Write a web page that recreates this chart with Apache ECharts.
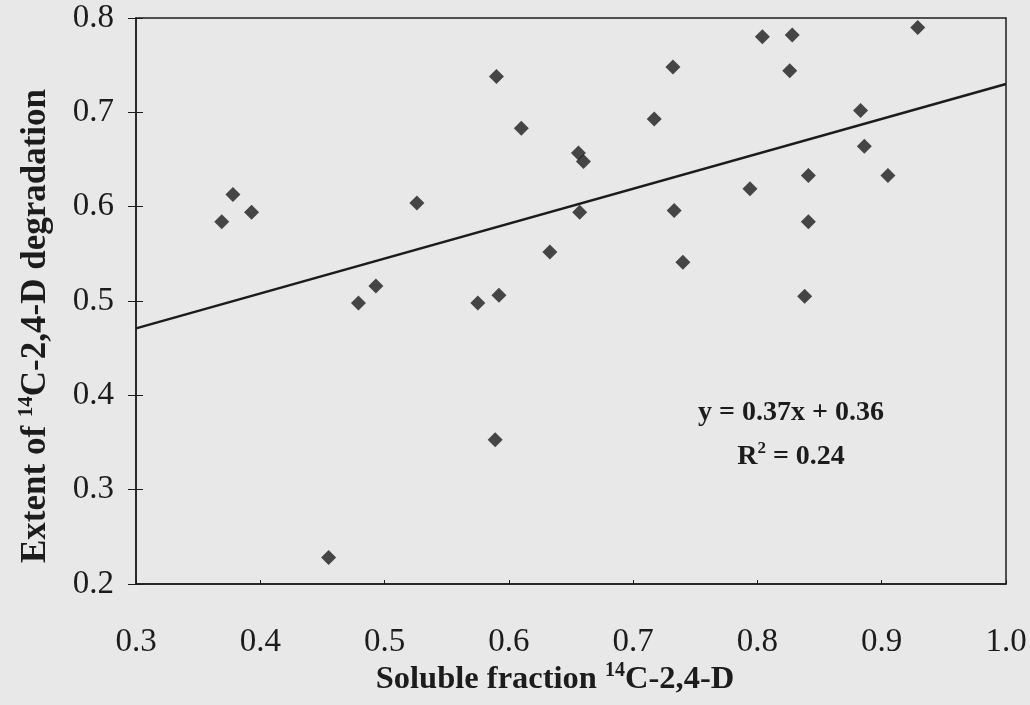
<!DOCTYPE html>
<html>
<head>
<meta charset="utf-8">
<script src="https://cdn.jsdelivr.net/npm/echarts@6/dist/echarts.min.js"></script>
<style>
  html, body { margin: 0; padding: 0; background: #e8e8e8; }
  #chart { width: 1030px; height: 705px; }
</style>
</head>
<body>
<div id="chart"></div>
<script>
// soluble fraction (x) and extent of degradation (y)
const solubleFraction = [
  0.369, 0.378, 0.393, 0.455, 0.479, 0.493, 0.526, 0.575, 0.589, 0.590,
  0.592, 0.610, 0.633, 0.656, 0.660, 0.657, 0.717, 0.732, 0.733, 0.740,
  0.794, 0.804, 0.826, 0.828, 0.838, 0.841, 0.841, 0.883, 0.886, 0.905,
  0.929
];
const degradation = [
  0.584, 0.613, 0.594, 0.228, 0.498, 0.516, 0.604, 0.498, 0.353, 0.738,
  0.506, 0.683, 0.552, 0.657, 0.648, 0.594, 0.693, 0.748, 0.596, 0.541,
  0.619, 0.780, 0.744, 0.782, 0.505, 0.633, 0.584, 0.702, 0.664, 0.633,
  0.790
];
// trend line as printed on the chart
const slope = 0.37;
const intercept = 0.36;
const xRange = [0.3, 1.0];
const yRange = [0.2, 0.8];

const font = '"Liberation Serif", "Times New Roman", serif';
const ink = '#1c1c1c';

const points = solubleFraction.map((x, i) => [x, degradation[i]]);
const trend = xRange.map(x => [x, slope * x + intercept]);

const chart = echarts.init(document.getElementById('chart'));

// bold title with a small superscript "14"
const makeRich = (size, supSize) => ({
  t: { fontFamily: font, fontSize: size, fontWeight: 'bold', fill: ink, lineHeight: size + 5 },
  s: { fontFamily: font, fontSize: supSize, fontWeight: 'bold', fill: ink, verticalAlign: 'top', lineHeight: size + 5 }
});

const option = {
  backgroundColor: '#e8e8e8',
  animation: false,
  textStyle: { fontFamily: font, color: ink },
  grid: {
    left: 136, right: 24, top: 18, bottom: 121,
    show: true, borderColor: ink, borderWidth: 1.5, backgroundColor: 'transparent'
  },
  xAxis: {
    type: 'value',
    min: xRange[0], max: xRange[1], interval: 0.1,
    axisLine: { show: true, lineStyle: { color: ink, width: 1.5 } },
    axisTick: { show: true, inside: true, length: 4, lineStyle: { color: ink } },
    splitLine: { show: false },
    axisLabel: {
      fontFamily: font, fontSize: 33, color: ink, margin: 42,
      formatter: v => v.toFixed(1)
    }
  },
  yAxis: [
    {
      type: 'value',
      min: yRange[0], max: yRange[1], interval: 0.1,
      axisLine: { show: true, lineStyle: { color: ink, width: 1.5 } },
      axisTick: { show: true, length: 8, lineStyle: { color: ink } },
      splitLine: { show: false },
      axisLabel: {
        fontFamily: font, fontSize: 33, color: ink, margin: 22,
        formatter: v => v.toFixed(1)
      }
    },
    {
      // inner half of the crossing ticks
      type: 'value', position: 'left',
      min: yRange[0], max: yRange[1], interval: 0.1,
      axisLine: { show: false },
      axisTick: { show: true, inside: true, length: 7, lineStyle: { color: ink } },
      axisLabel: { show: false },
      splitLine: { show: false }
    }
  ],
  series: [
    {
      type: 'scatter',
      data: points,
      symbol: 'diamond',
      symbolSize: 15,
      itemStyle: { color: ink },
      z: 3
    },
    {
      type: 'line',
      data: trend,
      symbol: 'none',
      lineStyle: { color: ink, width: 2.5 },
      z: 2
    }
  ],
  graphic: [
    {
      type: 'text', z: 10,
      x: 555, y: 680,
      style: {
        text: '{t|Soluble fraction }{s|14}{t|C-2,4-D}',
        align: 'center', verticalAlign: 'middle',
        rich: makeRich(32.5, 20)
      }
    },
    {
      type: 'text', z: 10,
      x: 36, y: 326,
      rotation: Math.PI / 2,
      style: {
        text: '{t|Extent of }{s|14}{t|C-2,4-D degradation}',
        align: 'center', verticalAlign: 'middle',
        rich: makeRich(35, 21)
      }
    },
    {
      type: 'text', z: 10,
      x: 791, y: 413,
      style: {
        text: 'y = ' + slope + 'x + ' + intercept,
        align: 'center', verticalAlign: 'middle',
        font: 'bold 28px ' + font, fill: ink
      }
    },
    {
      type: 'text', z: 10,
      x: 791, y: 457,
      style: {
        text: '{t|R}{s|2}{t| = 0.24}',
        align: 'center', verticalAlign: 'middle',
        rich: makeRich(28, 17)
      }
    }
  ]
};

chart.setOption(option);
window.addEventListener('resize', chart.resize);
</script>
</body>
</html>
